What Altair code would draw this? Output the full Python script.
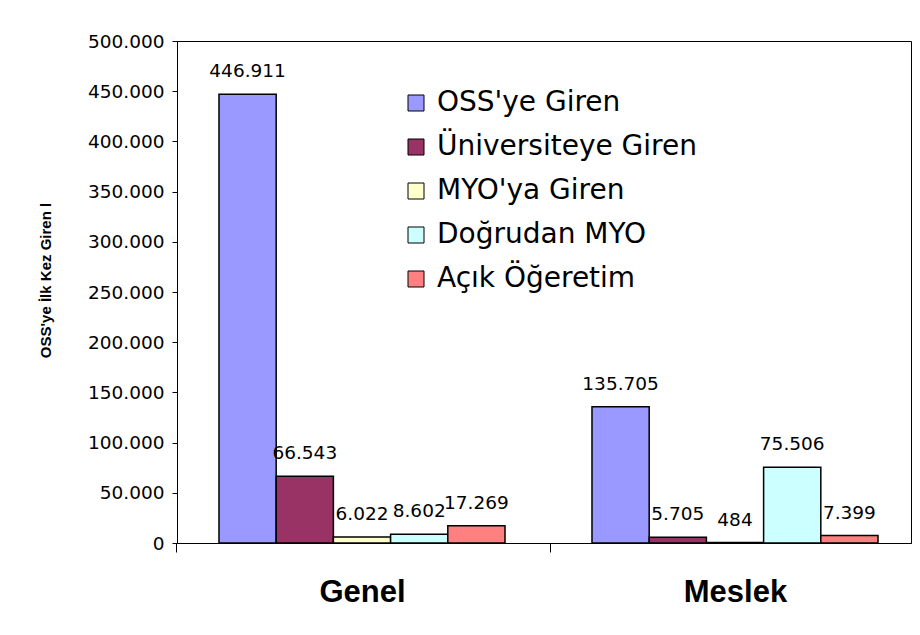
import altair as alt
import pandas as pd

categories = ["Genel", "Meslek"]
series = ["OSS'ye Giren", "Üniversiteye Giren", "MYO'ya Giren", "Doğrudan MYO", "Açık Öğeretim"]
genel_values = [446911, 66543, 6022, 8602, 17269]
meslek_values = [135705, 5705, 484, 75506, 7399]
colors = ["#9999ff", "#993366", "#ffffcc", "#ccffff", "#ff8080"]
y_ticks = list(range(0, 500001, 50000))
y_title = "OSS'ye İlk Kez Giren l"

rows = []
for cat, vals in zip(categories, [genel_values, meslek_values]):
    for s, v in zip(series, vals):
        rows.append({"grup": cat, "seri": s, "deger": v,
                     "etiket": f"{v:,}".replace(",", ".")})
df = pd.DataFrame(rows)

x = alt.X(
    "grup:N", sort=categories,
    scale=alt.Scale(paddingInner=0.2332, paddingOuter=0.1005, align=0.56),
    axis=alt.Axis(title=None, labelAngle=0, labelFont="Liberation Sans",
                  labelFontWeight="bold", labelFontSize=31, labelColor="black",
                  tickOffset=-185.5, labelOffset=185.5, tickSize=9, tickColor="black",
                  domainColor="black", labelPadding=25, grid=False),
)
xoff = alt.XOffset("seri:N", sort=series, scale=alt.Scale(paddingInner=0, paddingOuter=0))
y = alt.Y(
    "deger:Q",
    scale=alt.Scale(domain=[0, 500000], nice=False),
    axis=alt.Axis(values=y_ticks,
                  labelExpr="replace(format(datum.value, ','), ',', '.')",
                  labelFont="DejaVu Sans", labelFontSize=18.5, labelColor="black",
                  labelPadding=8, tickSize=5, tickColor="black", domainColor="black",
                  grid=False, title=y_title, titleFont="Liberation Sans",
                  titleFontWeight="bold", titleFontSize=15, titleColor="black",
                  titleAngle=270, titleX=-132, titleY=239, titleAlign="center",
                  titleBaseline="middle"),
)

bars = alt.Chart(df).mark_bar(stroke="black", strokeWidth=1.5).encode(
    x=x, xOffset=xoff, y=y,
    color=alt.Color("seri:N", sort=series,
                    scale=alt.Scale(domain=series, range=colors),
                    legend=alt.Legend(orient="none", legendX=225, legendY=48, title=None,
                                      symbolType="square", symbolSize=256,
                                      symbolStrokeColor="black", symbolStrokeWidth=1,
                                      symbolOpacity=1, labelFont="DejaVu Sans",
                                      labelFontSize=28, labelColor="black", labelLimit=0,
                                      rowPadding=16, labelOffset=7, padding=0)),
)

labels = alt.Chart(df).mark_text(baseline="alphabetic", dy=-17, font="DejaVu Sans",
                                 fontSize=18.5, color="black").encode(
    x=x, xOffset=xoff, y=y, text="etiket:N"
)

chart = alt.layer(bars, labels).properties(
    width=734, height=502,
    autosize=alt.AutoSizeParams(type="none"),
    padding={"left": 169, "top": 33, "right": 1, "bottom": 80},
    background="white",
).configure_view(stroke="black", strokeWidth=1)

chart.save("out.html", embed_options={"renderer": "svg", "actions": False})
